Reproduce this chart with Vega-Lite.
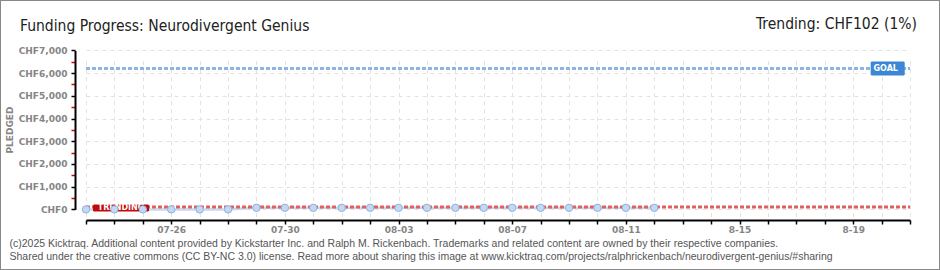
{
  "$schema": "https://vega.github.io/schema/vega-lite/v6.json",
  "width": 940,
  "height": 270,
  "padding": 0,
  "autosize": {"type": "none"},
  "background": "white",
  "config": {"view": {"stroke": "#888888", "strokeWidth": 2}, "font": "DejaVu Sans"},
  "title": {
    "text": "Funding Progress: Neurodivergent Genius",
    "anchor": "start",
    "frame": "group",
    "dx": 20,
    "offset": -46,
    "baseline": "alphabetic",
    "font": "DejaVu Sans Condensed, Roboto",
    "fontSize": 15.5,
    "fontWeight": "normal",
    "color": "#222222"
  },
  "datasets": {
    "pledged": [
      {"date": "2025-07-23", "value": 0},
      {"date": "2025-07-24", "value": 0},
      {"date": "2025-07-25", "value": 0},
      {"date": "2025-07-26", "value": 0},
      {"date": "2025-07-27", "value": 0},
      {"date": "2025-07-28", "value": 0},
      {"date": "2025-07-29", "value": 70},
      {"date": "2025-07-30", "value": 70},
      {"date": "2025-07-31", "value": 70},
      {"date": "2025-08-01", "value": 70},
      {"date": "2025-08-02", "value": 70},
      {"date": "2025-08-03", "value": 70},
      {"date": "2025-08-04", "value": 70},
      {"date": "2025-08-05", "value": 70},
      {"date": "2025-08-06", "value": 70},
      {"date": "2025-08-07", "value": 70},
      {"date": "2025-08-08", "value": 70},
      {"date": "2025-08-09", "value": 70},
      {"date": "2025-08-10", "value": 70},
      {"date": "2025-08-11", "value": 70},
      {"date": "2025-08-12", "value": 70}
    ],
    "goal": [
      {"date": "2025-07-23", "value": 6200, "label": ""},
      {"date": "2025-08-21", "value": 6200, "label": "GOAL"}
    ],
    "trend": [
      {"date": "2025-07-23", "value": 102, "label": "TRENDING"},
      {"date": "2025-08-21", "value": 102, "label": ""}
    ]
  },
  "layer": [
    {
      "data": {"name": "goal"},
      "mark": {"type": "line", "color": "#8db5e3", "strokeWidth": 3, "strokeDash": [4, 2]},
      "encoding": {
        "x": {
          "field": "date", "type": "temporal",
          "scale": {"type": "utc", "domain": [{"year": 2025, "month": 7, "date": 23, "utc": true}, {"year": 2025, "month": 8, "date": 21, "utc": true}], "range": [86, 910]},
          "axis": {
            "orient": "bottom", "offset": -50,
            "tickCount": {"interval": "day", "step": 1},
            "grid": true, "gridColor": "#e2e2e2", "gridDash": [4, 4], "gridWidth": 1,
            "domainColor": "#000000", "domainWidth": 2,
            "tickColor": "#000000", "tickWidth": 1.5, "tickSize": 4,
            "labelExpr": "((datum.value - utc(2025,6,23)) / 86400000) % 4 === 3 ? (datum.value > utc(2025,7,12) ? utcFormat(datum.value, '%-m-%d') : utcFormat(datum.value, '%m-%d')) : ''",
            "labelFont": "DejaVu Sans", "labelFontSize": 9, "labelFontWeight": "bold", "labelColor": "#858585",
            "labelPadding": 1, "labelOverlap": false, "labelFlush": false, "labelBound": false,
            "title": ["(c)2025 Kicktraq. Additional content provided by Kickstarter Inc. and Ralph M. Rickenbach. Trademarks and related content are owned by their respective companies.", "Shared under the creative commons (CC BY-NC 3.0) license. Read more about sharing this image at www.kicktraq.com/projects/ralphrickenbach/neurodivergent-genius/#sharing"],
            "titleX": 9, "titleY": 26.5, "titleAlign": "left", "titleAnchor": "start", "titleBaseline": "alphabetic",
            "titleFont": "Liberation Sans", "titleFontSize": 10.5, "titleFontWeight": "normal", "titleColor": "#555555", "titleLineHeight": 13
          }
        },
        "y": {
          "field": "value", "type": "quantitative",
          "scale": {"domain": [0, 7000], "range": [209.4, 50.4], "nice": false, "zero": false},
          "axis": {
            "orient": "left", "offset": -75,
            "tickCount": 14,
            "grid": true, "gridColor": "#e2e2e2", "gridDash": [4, 4], "gridWidth": 1,
            "gridOpacity": {"condition": {"test": "datum.value % 1000 !== 0", "value": 0}, "value": 1},
            "domainColor": "#000000", "domainWidth": 2,
            "tickColor": {"condition": {"test": "datum.value % 1000 !== 0", "value": "#dd0000"}, "value": "#000000"},
            "tickWidth": 1.5, "tickSize": 4,
            "labelExpr": "datum.value % 1000 === 0 ? 'CHF' + format(datum.value, ',') : ''",
            "labelFont": "DejaVu Sans", "labelFontSize": 9, "labelFontWeight": "bold", "labelColor": "#858585",
            "labelPadding": 4, "labelOverlap": false, "labelFlush": false, "labelBound": false,
            "title": "PLEDGED", "titleX": -65.5, "titleY": 129.5, "titleAngle": -90, "titleAlign": "center", "titleBaseline": "middle",
            "titleFont": "DejaVu Sans", "titleFontSize": 9, "titleFontWeight": "bold", "titleColor": "#858585"
          }
        }
      }
    },
    {
      "data": {"name": "pledged"},
      "mark": {"type": "line", "color": "#c6dbf2", "strokeWidth": 2.5},
      "encoding": {
        "x": {"field": "date", "type": "temporal"},
        "y": {"field": "value", "type": "quantitative"}
      }
    },
    {
      "data": {"name": "trend"},
      "mark": {"type": "line", "color": "#df6060", "strokeWidth": 3, "strokeDash": [4, 2]},
      "encoding": {
        "x": {"field": "date", "type": "temporal"},
        "y": {"field": "value", "type": "quantitative"}
      }
    },
    {
      "data": {"name": "trend"},
      "transform": [{"filter": "datum.label === 'TRENDING'"}],
      "mark": {"type": "point", "shape": "M-0.97,-0.125H0.97L1,-0.09V0.09L0.97,0.125H-0.97L-1,0.09V-0.09Z", "size": 3136, "filled": true, "color": "#c20a0a", "opacity": 1, "xOffset": 35, "yOffset": 1},
      "encoding": {
        "x": {"field": "date", "type": "temporal"},
        "y": {"field": "value", "type": "quantitative"}
      }
    },
    {
      "data": {"name": "trend"},
      "transform": [{"filter": "datum.label === 'TRENDING'"}],
      "mark": {"type": "text", "color": "white", "font": "DejaVu Sans", "fontSize": 8, "fontWeight": "bold", "baseline": "middle", "align": "center", "xOffset": 35, "yOffset": 1},
      "encoding": {
        "x": {"field": "date", "type": "temporal"},
        "y": {"field": "value", "type": "quantitative"},
        "text": {"field": "label"}
      }
    },
    {
      "data": {"name": "pledged"},
      "mark": {"type": "point", "shape": "circle", "filled": true, "size": 55, "fill": "#c3d9f3", "stroke": "#8fb2dd", "strokeWidth": 1, "opacity": 1},
      "encoding": {
        "x": {"field": "date", "type": "temporal"},
        "y": {"field": "value", "type": "quantitative"}
      }
    },
    {
      "data": {"name": "goal"},
      "transform": [{"filter": "datum.label === 'GOAL'"}],
      "mark": {"type": "point", "shape": "M-0.95,-0.41H0.95L1,-0.35V0.35L0.95,0.41H-0.95L-1,0.35V-0.35Z", "size": 1156, "filled": true, "color": "#3c86d6", "opacity": 1, "xOffset": -22.3},
      "encoding": {
        "x": {"field": "date", "type": "temporal"},
        "y": {"field": "value", "type": "quantitative"}
      }
    },
    {
      "data": {"name": "goal"},
      "transform": [{"filter": "datum.label === 'GOAL'"}],
      "mark": {"type": "text", "color": "white", "font": "DejaVu Sans", "fontSize": 8, "fontWeight": "bold", "baseline": "middle", "align": "center", "xOffset": -24.3},
      "encoding": {
        "x": {"field": "date", "type": "temporal"},
        "y": {"field": "value", "type": "quantitative"},
        "text": {"field": "label"}
      }
    },
    {
      "data": {"name": "goal"},
      "transform": [{"filter": "datum.label === 'GOAL'"}],
      "mark": {"type": "text", "text": "Trending: CHF102 (1%)", "color": "#222222", "font": "DejaVu Sans Condensed, Roboto", "fontSize": 15.5, "baseline": "alphabetic", "align": "right", "xOffset": 7, "yOffset": -39.3},
      "encoding": {
        "x": {"field": "date", "type": "temporal"},
        "y": {"field": "value", "type": "quantitative"}
      }
    }
  ]
}
